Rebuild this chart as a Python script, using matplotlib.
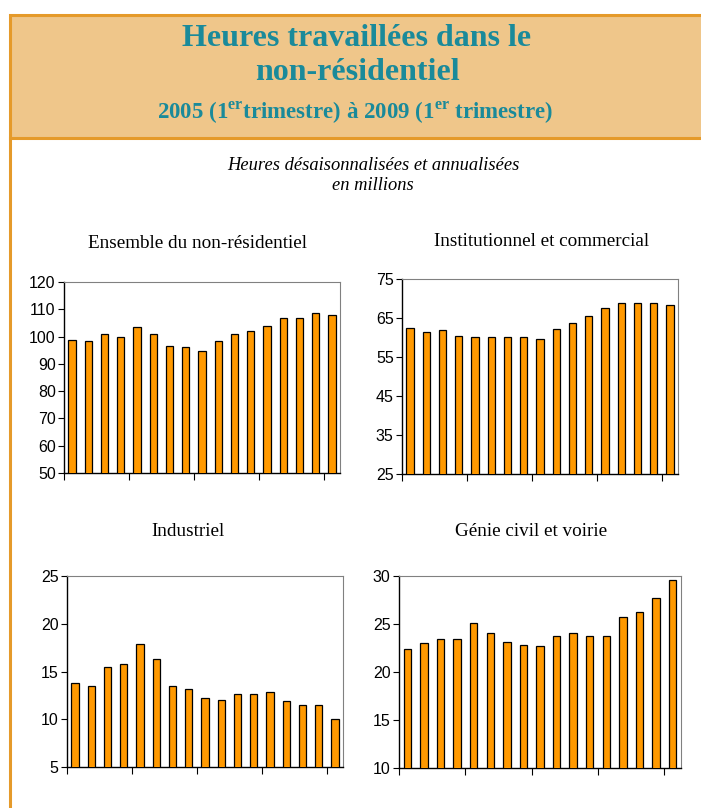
"""
Heures travaillées dans le non-résidentiel, 2005 T1 à 2009 T1.
Four bar panels, quarterly values read from the source figure.
"""

import matplotlib
matplotlib.use("Agg")
import matplotlib.pyplot as plt
import numpy as np
from matplotlib.patches import Rectangle
from matplotlib.lines import Line2D

# ----------------------------------------------------------------------------
# Data (millions of hours, seasonally adjusted and annualised)
# ----------------------------------------------------------------------------
QUARTERS = ["2005T1", "2005T2", "2005T3", "2005T4",
            "2006T1", "2006T2", "2006T3", "2006T4",
            "2007T1", "2007T2", "2007T3", "2007T4",
            "2008T1", "2008T2", "2008T3", "2008T4",
            "2009T1"]

ensemble = [98.8, 98.3, 100.8, 99.9, 103.4, 100.8, 96.7, 96.2, 94.7,
            98.3, 100.8, 101.9, 103.8, 106.9, 106.9, 108.5, 108.0]
institutionnel = [62.5, 61.5, 61.8, 60.4, 60.1, 60.1, 60.1, 60.1, 59.7,
                  62.2, 63.7, 65.4, 67.5, 68.9, 68.9, 68.9, 68.3]
industriel = [13.8, 13.5, 15.5, 15.75, 17.9, 16.3, 13.5, 13.2, 12.2,
              12.0, 12.6, 12.6, 12.9, 11.9, 11.45, 11.45, 10.0]
genie_civil = [22.4, 23.0, 23.4, 23.4, 25.1, 24.1, 23.1, 22.8, 22.7,
               23.7, 24.1, 23.8, 23.7, 25.7, 26.2, 27.7, 29.55]

PANEL_TITLES = ["Ensemble du non-résidentiel", "Institutionnel et commercial",
                "Industriel", "Génie civil et voirie"]
Y_TICKS = [np.arange(50, 121, 10), np.arange(25, 76, 10),
           np.arange(5, 26, 5), np.arange(10, 31, 5)]

TEAL = "#1A8A9A"
ORANGE_BAR = "#FF9900"
HEAD_FILL = "#EFC68A"
HEAD_EDGE = "#E59A2A"

W, H = 701, 808

plt.rcParams.update({
    "font.family": "Liberation Sans",
    "mathtext.fontset": "custom",
    "mathtext.bf": "Liberation Serif:bold",
    "mathtext.rm": "Liberation Serif:bold",
})


def fx(px):
    return px / W


def fy(py):
    return 1 - py / H


def draw_panel(fig, rect, values, yticks, title, title_x, title_y):
    ax = fig.add_axes(rect)
    x = np.arange(len(values)) + 0.5
    ax.bar(x, values, width=0.45, color=ORANGE_BAR, edgecolor="black",
           linewidth=0.9, zorder=3)
    ax.set_xlim(0, len(values))
    ax.set_ylim(yticks[0], yticks[-1])
    ax.set_yticks(yticks)
    ax.set_xticks([0, 4, 8, 12, 16])
    ax.set_xticklabels([])
    ax.tick_params(axis="both", direction="out", length=4, width=0.8,
                   labelsize=11.5, pad=2)
    ax.tick_params(axis="x", length=5)
    for s in ("top", "right"):
        ax.spines[s].set_color("#808080")
        ax.spines[s].set_linewidth(0.8)
    for s in ("left", "bottom"):
        ax.spines[s].set_color("black")
        ax.spines[s].set_linewidth(1.0)
    fig.text(fx(title_x), fy(title_y), title, ha="center", va="center",
             family="Liberation Serif", fontsize=13.8)
    return ax


def main():
    fig = plt.figure(figsize=(W / 100, H / 100), dpi=100)

    # header band
    fig.patches.append(Rectangle((fx(10), fy(138)), fx(W + 10), 123 / H,
                                 transform=fig.transFigure,
                                 facecolor=HEAD_FILL, edgecolor=HEAD_EDGE,
                                 linewidth=2.2, zorder=0))
    fig.lines.append(Line2D([fx(10), fx(10)], [fy(138), 0],
                            transform=fig.transFigure, color=HEAD_EDGE,
                            linewidth=2.2))

    fig.text(fx(357), fy(39), "Heures travaillées dans le", ha="center",
             va="center", family="Liberation Serif", weight="bold",
             fontsize=23, color=TEAL)
    fig.text(fx(357), fy(73), "non-résidentiel", ha="center",
             va="center", family="Liberation Serif", weight="bold",
             fontsize=23, color=TEAL)
    fig.text(fx(355), fy(113),
             r"2005 (1$^{\mathbf{er}}$trimestre) à 2009 (1$^{\mathbf{er}}$ trimestre)",
             ha="center", va="center", family="Liberation Serif",
             weight="bold", fontsize=16.5, color=TEAL)

    fig.text(fx(373), fy(165), "Heures désaisonnalisées et annualisées",
             ha="center", va="center", family="Liberation Serif",
             style="italic", fontsize=13.3)
    fig.text(fx(373), fy(185), "en millions",
             ha="center", va="center", family="Liberation Serif",
             style="italic", fontsize=13.3)

    rects = [
        [fx(64), fy(473), fx(276), 191 / H],
        [fx(402), fy(474), fx(276), 195 / H],
        [fx(67), fy(767), fx(276), 191 / H],
        [fx(399), fy(768), fx(282), 192 / H],
    ]
    series = [ensemble, institutionnel, industriel, genie_civil]
    title_pos = [(198, 243), (542, 242), (188, 531), (531, 531)]

    for rect, vals, yt, title, (tx, ty) in zip(rects, series, Y_TICKS,
                                              PANEL_TITLES, title_pos):
        draw_panel(fig, rect, vals, yt, title, tx, ty)

    fig.savefig("out.png", dpi=100, facecolor="white")
    plt.close(fig)


if __name__ == "__main__":
    main()
